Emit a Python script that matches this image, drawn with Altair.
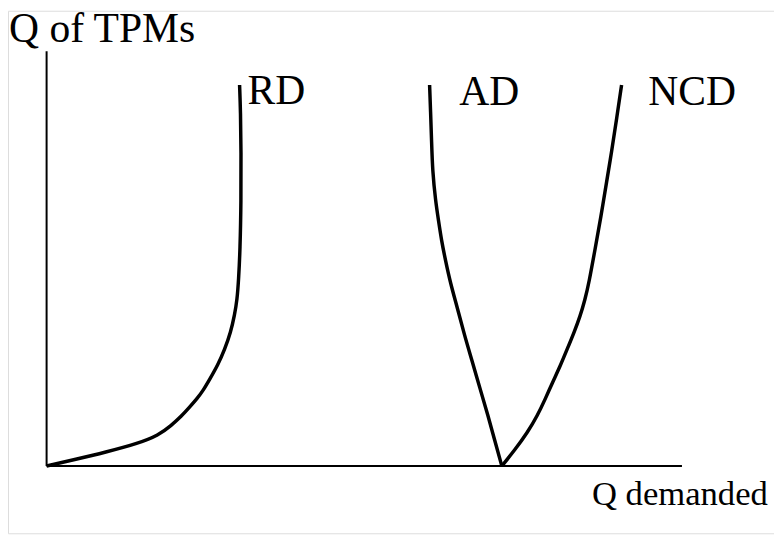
import altair as alt
import pandas as pd

# Curves (x: quantity demanded units, y: quantity of TPMs units)
rd_x = [0, 26, 60, 93, 113, 126, 136, 145, 152, 158, 165, 173, 180, 186, 190, 192.5, 194, 195.5, 196.5, 196.5, 196, 195]
rd_y = [0, 6, 14, 23, 31, 41, 50, 60, 68, 76, 88, 102, 118, 135, 153, 168, 188, 218, 268, 318, 358, 385]

ad_x = [387, 388, 389, 390, 393, 396, 399, 403, 408, 415, 422, 430, 438, 446, 453, 460]
ad_y = [385, 358, 328, 298, 268, 248, 228, 208, 185, 160, 133, 106, 78, 51, 25, 0]

ncd_x = [460, 473, 486, 496, 504, 511, 519, 526, 533, 539, 544, 548, 554, 560, 566, 571, 576, 581]
ncd_y = [0, 16, 34, 51, 68, 84, 101, 118, 135, 151, 168, 185, 218, 251, 288, 318, 351, 385]

label_text = ["Q of TPMs", "RD", "AD", "NCD", "Q demanded"]
label_x = [-38, 203, 417, 608, 551]
label_y = [428, 366, 365, 365, -39]
label_size = [42, 42, 42, 42, 35]

axis_x_end = 642
axis_y_end = 419

rows = []
for name, xs, ys in [("RD", rd_x, rd_y), ("AD", ad_x, ad_y), ("NCD", ncd_x, ncd_y)]:
    for i, (x, y) in enumerate(zip(xs, ys)):
        rows.append({"curve": name, "i": i, "x": x, "y": y})
curves = pd.DataFrame(rows)

axes_df = pd.DataFrame([
    {"x": 0, "y": 0, "x2": axis_x_end, "y2": 0},
    {"x": 0, "y": 0, "x2": 0, "y2": axis_y_end},
])
labels = pd.DataFrame({"text": label_text, "x": label_x, "y": label_y, "size": label_size})

W, H = 774, 528
xs = alt.Scale(domain=[-39, W - 39], nice=False, zero=False)
ys = alt.Scale(domain=[460 - H, 460], nice=False, zero=False)

lines = alt.Chart(curves).mark_line(color="black", strokeWidth=3.5, interpolate="basis").encode(
    x=alt.X("x:Q", scale=xs, axis=None),
    y=alt.Y("y:Q", scale=ys, axis=None),
    detail="curve:N",
    order="i:Q",
)

axes = alt.Chart(axes_df).mark_rule(color="black", strokeWidth=2).encode(
    x=alt.X("x:Q", scale=xs, axis=None),
    y=alt.Y("y:Q", scale=ys, axis=None),
    x2="x2:Q",
    y2="y2:Q",
)

text = alt.Chart(labels).mark_text(
    font="Liberation Serif", align="left", baseline="alphabetic", color="black"
).encode(
    x=alt.X("x:Q", scale=xs, axis=None),
    y=alt.Y("y:Q", scale=ys, axis=None),
    text="text:N",
    size=alt.Size("size:Q", scale=None, legend=None),
)

chart = alt.layer(axes, lines, text).properties(
    width=W, height=H, autosize=alt.AutoSizeParams(type="none"), padding=0
).configure_view(strokeWidth=0).configure_text(font="Liberation Serif").configure(
    background="white", font="Liberation Serif"
)

chart.save("out.html", embed_options={"renderer": "svg", "actions": False})
